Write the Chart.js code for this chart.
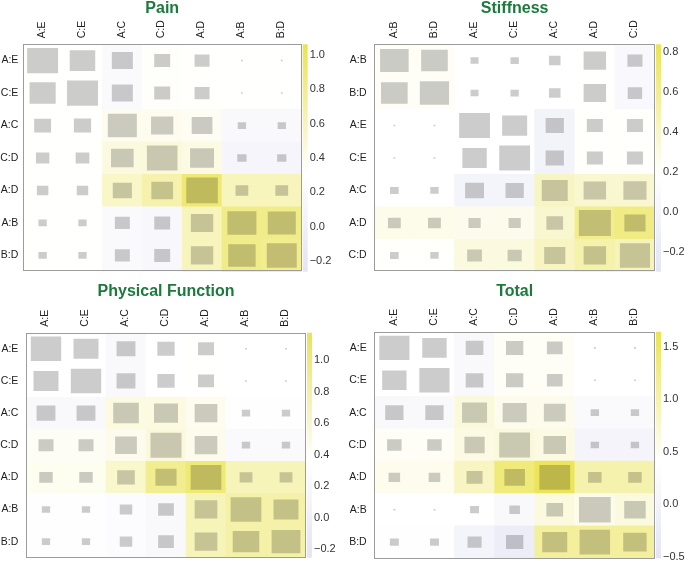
<!DOCTYPE html>
<html>
<head>
<meta charset="utf-8">
<script src="https://cdn.jsdelivr.net/npm/chart.js@4.4.1/dist/chart.umd.min.js"></script>
<style>
  html, body { margin: 0; padding: 0; background: #fff; }
  #page { position: relative; width: 685px; height: 561px; overflow: hidden; }
  #page canvas { position: absolute; }
</style>
</head>
<body>
<div id="page">
  <canvas id="pain" width="342" height="280" style="left:0;top:0"></canvas>
  <canvas id="stiffness" width="343" height="280" style="left:342px;top:0"></canvas>
  <canvas id="physical" width="342" height="281" style="left:0;top:280px"></canvas>
  <canvas id="total" width="343" height="281" style="left:342px;top:280px"></canvas>
</div>
<script>
// pair labels (rows and columns use the same order within a panel)
const pairs = ['A:E', 'C:E', 'A:C', 'C:D', 'A:D', 'A:B', 'B:D'];
const stiffPairs = ['A:B', 'B:D', 'A:E', 'C:E', 'A:C', 'A:D', 'C:D'];

// square magnitude (0..1) per cell, row by row
const painSize = [
  [0.97, 0.80, 0.66, 0.50, 0.47, 0.06, 0.06],
  [0.82, 0.97, 0.66, 0.50, 0.47, 0.06, 0.06],
  [0.53, 0.54, 0.91, 0.70, 0.65, 0.26, 0.26],
  [0.42, 0.43, 0.71, 0.96, 0.75, 0.29, 0.29],
  [0.36, 0.36, 0.60, 0.68, 0.99, 0.40, 0.40],
  [0.26, 0.26, 0.47, 0.50, 0.70, 0.91, 0.88],
  [0.26, 0.26, 0.47, 0.50, 0.70, 0.86, 0.94],
];
// background value per cell, on the colour bar scale
const painHeat = [
  [0.31, 0.31, 0.20, 0.33, 0.32, 0.31, 0.31],
  [0.31, 0.31, 0.20, 0.33, 0.32, 0.31, 0.31],
  [0.31, 0.31, 0.38, 0.38, 0.36, 0.17, 0.17],
  [0.31, 0.31, 0.44, 0.46, 0.43, 0.10, 0.10],
  [0.31, 0.31, 0.55, 0.66, 0.92, 0.60, 0.60],
  [0.31, 0.31, 0.20, 0.15, 0.60, 0.82, 0.82],
  [0.31, 0.31, 0.20, 0.15, 0.60, 0.82, 0.80],
];
const painTicks = [-0.2, 0, 0.2, 0.4, 0.6, 0.8, 1.0];
const painRange = [-0.263, 1.063];

const stiffSize = [
  [0.89, 0.83, 0.25, 0.26, 0.36, 0.70, 0.47],
  [0.83, 0.91, 0.25, 0.26, 0.36, 0.70, 0.45],
  [0.06, 0.06, 0.96, 0.78, 0.57, 0.50, 0.50],
  [0.06, 0.06, 0.76, 0.96, 0.57, 0.50, 0.50],
  [0.27, 0.26, 0.59, 0.57, 0.81, 0.70, 0.72],
  [0.40, 0.40, 0.38, 0.38, 0.52, 1.00, 0.66],
  [0.27, 0.26, 0.46, 0.44, 0.66, 0.70, 0.94],
];
const stiffHeat = [
  [0.225, 0.225, 0.19, 0.19, 0.19, 0.20, 0.08],
  [0.225, 0.225, 0.19, 0.19, 0.19, 0.20, 0.08],
  [0.19, 0.19, 0.19, 0.19, -0.02, 0.20, 0.20],
  [0.19, 0.19, 0.19, 0.19, -0.02, 0.20, 0.20],
  [0.19, 0.19, 0.00, 0.00, 0.41, 0.37, 0.37],
  [0.27, 0.27, 0.26, 0.26, 0.37, 0.60, 0.65],
  [0.20, 0.20, 0.31, 0.31, 0.42, 0.50, 0.45],
];
const stiffTicks = [-0.2, 0, 0.2, 0.4, 0.6, 0.8];
const stiffRange = [-0.298, 0.837];

const physSize = [
  [0.95, 0.78, 0.59, 0.54, 0.50, 0.06, 0.06],
  [0.78, 0.95, 0.59, 0.54, 0.50, 0.06, 0.06],
  [0.59, 0.59, 0.80, 0.75, 0.71, 0.26, 0.26],
  [0.47, 0.47, 0.68, 0.97, 0.71, 0.26, 0.26],
  [0.42, 0.42, 0.55, 0.66, 0.96, 0.40, 0.40],
  [0.26, 0.26, 0.39, 0.49, 0.71, 0.96, 0.78],
  [0.26, 0.26, 0.39, 0.49, 0.71, 0.83, 0.90],
];
const physHeat = [
  [0.36, 0.36, 0.22, 0.36, 0.37, 0.36, 0.36],
  [0.36, 0.36, 0.22, 0.36, 0.37, 0.36, 0.36],
  [0.22, 0.22, 0.50, 0.50, 0.44, 0.33, 0.33],
  [0.41, 0.41, 0.45, 0.53, 0.45, 0.24, 0.24],
  [0.43, 0.43, 0.60, 0.88, 1.01, 0.69, 0.69],
  [0.34, 0.34, 0.30, 0.22, 0.69, 0.77, 0.77],
  [0.34, 0.34, 0.30, 0.22, 0.69, 0.77, 0.77],
];
const physTicks = [-0.2, 0, 0.2, 0.4, 0.6, 0.8, 1.0];
const physRange = [-0.254, 1.176];

const totalSize = [
  [0.94, 0.76, 0.55, 0.54, 0.49, 0.06, 0.06],
  [0.76, 0.94, 0.55, 0.54, 0.49, 0.06, 0.06],
  [0.57, 0.57, 0.78, 0.75, 0.68, 0.26, 0.26],
  [0.45, 0.45, 0.63, 0.96, 0.70, 0.26, 0.26],
  [0.36, 0.36, 0.50, 0.64, 0.96, 0.42, 0.42],
  [0.06, 0.06, 0.28, 0.33, 0.52, 0.99, 0.67],
  [0.28, 0.28, 0.44, 0.54, 0.78, 0.95, 0.73],
];
const totalHeat = [
  [0.41, 0.41, 0.20, 0.47, 0.47, 0.41, 0.41],
  [0.41, 0.41, 0.20, 0.47, 0.47, 0.41, 0.41],
  [0.20, 0.20, 0.66, 0.55, 0.55, 0.25, 0.25],
  [0.48, 0.48, 0.62, 0.66, 0.62, 0.03, 0.03],
  [0.54, 0.54, 0.85, 1.35, 1.58, 1.00, 1.00],
  [0.41, 0.41, 0.40, 0.20, 0.64, 0.56, 0.64],
  [0.38, 0.38, 0.05, -0.20, 1.12, 1.12, 1.12],
];
const totalTicks = [-0.5, 0, 0.5, 1.0, 1.5];
const totalRange = [-0.514, 1.644];

// colour scale: lavender -> white -> yellow
const LOW = [228, 228, 244];
const MID = [255, 255, 255];
const HIGH = [235, 227, 82];
const MID_AT = 0.43;
const MAX_FILL = 0.8;
const SHADE = 0.8;

Chart.defaults.font.family = "'Liberation Sans', Arial, Helvetica, sans-serif";

function heatRgb(v, range) {
  const t = Math.min(1, Math.max(0, (v - range[0]) / (range[1] - range[0])));
  let a, b, k;
  if (t < MID_AT) {
    a = LOW; b = MID; k = t / MID_AT;
  } else {
    a = MID; b = HIGH; k = (t - MID_AT) / (1 - MID_AT);
  }
  return a.map((x, i) => x + (b[i] - x) * k);
}

function toRgb(c) {
  return 'rgb(' + c.map((x) => Math.round(x)).join(',') + ')';
}

function formatTick(v) {
  return v.toFixed(1).replace('-', '\u2212');
}

const framePlugin = {
  id: 'frame',
  afterDatasetsDraw(chart) {
    const { ctx, chartArea: a, scales } = chart;
    const cb = scales.cb;
    const top = cb.getPixelForValue(cb.max);
    const bottom = cb.getPixelForValue(cb.min);
    const grad = ctx.createLinearGradient(0, bottom, 0, top);
    grad.addColorStop(0, toRgb(LOW));
    grad.addColorStop(MID_AT, toRgb(MID));
    grad.addColorStop(1, toRgb(HIGH));
    ctx.save();
    ctx.fillStyle = grad;
    ctx.fillRect(a.right + 1, top, 5, bottom - top);
    ctx.strokeStyle = '#9c9c9c';
    ctx.lineWidth = 1;
    ctx.strokeRect(Math.round(a.left) + 0.5, Math.round(a.top) + 0.5,
      Math.round(a.width) - 1, Math.round(a.height) - 1);
    ctx.restore();
  },
};

function createPanel(id, title, labels, size, heat, ticks, range, box) {
  const datasets = [];
  const cells = [];

  labels.forEach((row, r) => {
    labels.forEach((col, c) => {
      const fill = size[r][c] * MAX_FILL;
      datasets.push({
        data: [{ x: col, y: [r - fill / 2, r + fill / 2] }],
        barPercentage: fill,
        categoryPercentage: 1,
        backgroundColor: toRgb(heatRgb(heat[r][c], range).map((x) => x * SHADE)),
        order: 0,
      });
      cells.push({ x: col, y: [r - 0.5, r + 0.5], heat: heat[r][c] });
    });
  });

  datasets.push({
    data: cells,
    barPercentage: 1,
    categoryPercentage: 1,
    backgroundColor: (ctx) => (ctx.raw ? toRgb(heatRgb(ctx.raw.heat, range)) : '#fff'),
    order: 1,
  });

  const labelFont = { size: 10.5 };

  const config = {
    type: 'bar',
    data: { labels: labels, datasets: datasets },
    options: {
      responsive: false,
      animation: false,
      events: [],
      layout: {
        padding: { top: box.padTop, bottom: box.padBottom, left: 0, right: 0 },
      },
      datasets: {
        bar: { grouped: false },
      },
      plugins: {
        legend: { display: false },
        tooltip: { enabled: false },
        title: {
          display: true,
          text: title,
          fullSize: false,
          color: '#1b7a3c',
          padding: 0,
          font: { size: 16, weight: 'bold', lineHeight: 0.875 },
        },
      },
      scales: {
        x: {
          type: 'category',
          position: 'top',
          offset: true,
          grid: { display: false, drawTicks: false },
          border: { display: false },
          ticks: {
            autoSkip: false,
            minRotation: 90,
            maxRotation: 90,
            padding: 6,
            labelOffset: 12,
            color: '#222',
            font: labelFont,
          },
          afterFit: (s) => {
            s.height = box.xHeight;
            s.paddingLeft = 0;
            s.paddingRight = 0;
          },
        },
        y: {
          type: 'linear',
          position: 'left',
          reverse: true,
          min: -0.5,
          max: labels.length - 0.5,
          grid: { display: false, drawTicks: false },
          border: { display: false },
          afterBuildTicks: (s) => {
            s.ticks = labels.map((_, i) => ({ value: i }));
          },
          ticks: {
            callback: (v) => labels[v],
            padding: box.yPad,
            color: '#222',
            font: labelFont,
          },
          afterFit: (s) => {
            s.width = box.yWidth;
            s.paddingTop = 0;
            s.paddingBottom = 0;
          },
        },
        cb: {
          type: 'linear',
          position: 'right',
          min: range[0],
          max: range[1],
          grid: { display: false, drawTicks: false },
          border: { display: false },
          afterBuildTicks: (s) => {
            s.ticks = ticks.map((v) => ({ value: v }));
          },
          ticks: {
            callback: (v) => formatTick(v),
            padding: 8,
            color: '#333',
            font: { size: 11 },
          },
          afterFit: (s) => {
            s.width = box.cbWidth;
            s.paddingTop = 0;
            s.paddingBottom = 0;
          },
        },
      },
    },
    plugins: [framePlugin],
  };

  return new Chart(document.getElementById(id), config);
}

createPanel('pain', 'Pain', pairs, painSize, painHeat, painTicks, painRange,
  { padTop: 2, padBottom: 8.3, xHeight: 28.3, yWidth: 22.7, yPad: 4.4, cbWidth: 40.3 });
createPanel('stiffness', 'Stiffness', stiffPairs, stiffSize, stiffHeat, stiffTicks, stiffRange,
  { padTop: 2, padBottom: 8.3, xHeight: 28.3, yWidth: 32.3, yPad: 7.6, cbWidth: 30 });
createPanel('physical', 'Physical Function', pairs, physSize, physHeat, physTicks, physRange,
  { padTop: 4.7, padBottom: 3.3, xHeight: 34, yWidth: 26, yPad: 7.7, cbWidth: 36 });
createPanel('total', 'Total', pairs, totalSize, totalHeat, totalTicks, totalRange,
  { padTop: 4.7, padBottom: 2.7, xHeight: 33, yWidth: 32.3, yPad: 7.6, cbWidth: 30 });
</script>
</body>
</html>
